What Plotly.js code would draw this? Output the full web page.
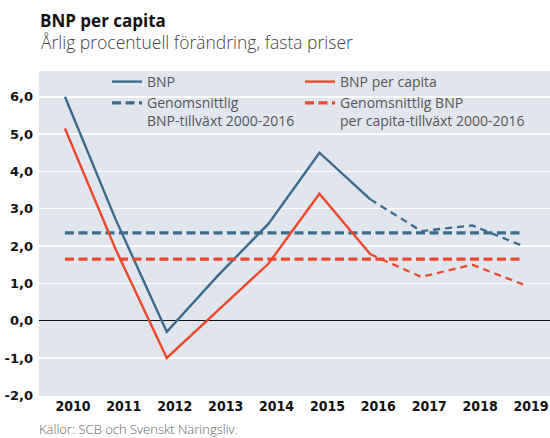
<!DOCTYPE html>
<html><head><meta charset="utf-8">
<script src="https://cdn.plot.ly/plotly-3.0.1.min.js"></script>
<style>html,body{margin:0;padding:0;background:#fff}#chart{width:550px;height:438px}</style>
</head><body><div id="chart"></div>
<script>
// ---- data ----
const years = [2010, 2011, 2012, 2013, 2014, 2015, 2016, 2017, 2018, 2019];
const bnp = [6.0, 2.7, -0.3, 1.2, 2.6, 4.5, 3.25, 2.4, 2.55, 2.0];
const bnpPerCapita = [5.15, 1.9, -1.0, 0.27, 1.53, 3.4, 1.78, 1.17, 1.5, 0.97];
const bnpAverage = 2.35;
const perCapitaAverage = 1.65;
const forecastFrom = 2016;
const yTickVals = [-2, -1, 0, 1, 2, 3, 4, 5, 6];
const yTickText = ['-2,0', '-1,0', '0,0', '1,0', '2,0', '3,0', '4,0', '5,0', '6,0'];
const xTickText = ['2010', '2011', '2012', '2013', '2014', '2015', '2016', '2017', '2018', '2019'];
const seriesNames = ['BNP', 'BNP per capita', 'Genomsnittlig<br>BNP-tillväxt 2000-2016', 'Genomsnittlig BNP<br>per capita-tillväxt 2000-2016'];
const titleText = 'BNP per capita';
const subtitleText = 'Årlig procentuell förändring, fasta priser';
const sourceText = 'Källor: SCB och Svenskt Näringsliv.';

// ---- build ----
const BLUE = '#3b6c8e', RED = '#f0462a';
const PLOT_L = 39, PLOT_W = 511, PLOT_TOP = 71, PLOT_H = 325;
const fi = years.indexOf(forecastFrom);
const histX = years.slice(0, fi + 1), fcX = years.slice(fi);
const avgX = [years[0], years[years.length - 1]];
const paperY = py => (PLOT_TOP + PLOT_H - py) / PLOT_H;
const paperX = px => (px - PLOT_L) / PLOT_W;

const traces = [
  {x: histX, y: bnp.slice(0, fi + 1), name: seriesNames[0], legend: 'legend', mode: 'lines', line: {color: BLUE, width: 2.4}},
  {x: avgX, y: [bnpAverage, bnpAverage], name: seriesNames[2], legend: 'legend', mode: 'lines', line: {color: BLUE, width: 3.3, dash: '9px,4.5px'}},
  {x: histX, y: bnpPerCapita.slice(0, fi + 1), name: seriesNames[1], legend: 'legend2', mode: 'lines', line: {color: RED, width: 2.4}},
  {x: avgX, y: [perCapitaAverage, perCapitaAverage], name: seriesNames[3], legend: 'legend2', mode: 'lines', line: {color: RED, width: 3.3, dash: '9px,4.5px'}},
  {x: fcX, y: bnp.slice(fi), mode: 'lines', showlegend: false, line: {color: BLUE, width: 2.3, dash: '7px,5px'}},
  {x: fcX, y: bnpPerCapita.slice(fi), mode: 'lines', showlegend: false, line: {color: RED, width: 2.3, dash: '7px,5px'}}
];

const legendFont = {family: 'Open Sans, Liberation Sans, sans-serif', size: 14, color: '#555555'};
const legendBase = {orientation: 'v', xanchor: 'left', y: paperY(66), yanchor: 'top', valign: 'top',
  bgcolor: 'rgba(0,0,0,0)', itemwidth: 30, tracegroupgap: 0, font: legendFont};

const layout = {
  width: 550, height: 438,
  margin: {l: PLOT_L, r: 550 - PLOT_L - PLOT_W, t: PLOT_TOP, b: 438 - PLOT_TOP - PLOT_H, pad: 0},
  paper_bgcolor: '#ffffff', plot_bgcolor: '#e1e6ee',
  showlegend: true,
  legend: Object.assign({}, legendBase, {x: paperX(107)}),
  legend2: Object.assign({}, legendBase, {x: paperX(300)}),
  title: {
    text: titleText, xref: 'container', yref: 'container', x: 40 / 550, xanchor: 'left',
    y: 1 - 21.5 / 438, yanchor: 'middle',
    font: {family: 'Open Sans, Liberation Sans, sans-serif', size: 17, weight: 700, color: '#111111'}
  },
  xaxis: {
    range: [2009.49, 2019.53], tickvals: years, ticktext: xTickText,
    showgrid: false, zeroline: false, ticks: '', showline: false,
    ticklabelshift: 8, ticklabelstandoff: 0,
    tickfont: {family: 'DejaVu Sans Condensed, DejaVu Sans, sans-serif', size: 14, weight: 700, color: '#111111'}
  },
  yaxis: {
    range: [-2.02, 6.69], tickvals: yTickVals, ticktext: yTickText,
    showgrid: true, gridcolor: '#ffffff', gridwidth: 1.5,
    zeroline: true, zerolinecolor: '#111111', zerolinewidth: 1.2,
    ticks: '', showline: false, ticklabelstandoff: 5,
    tickfont: {family: 'DejaVu Sans, sans-serif', size: 13, weight: 700, color: '#111111'}
  },
  annotations: [
    {text: subtitleText, xref: 'paper', yref: 'paper', x: 0, xanchor: 'left', y: paperY(42), yanchor: 'middle', showarrow: false,
     font: {family: 'Open Sans, Liberation Sans, sans-serif', size: 17.5, weight: 300, color: '#444444'}},
    {text: sourceText, xref: 'paper', yref: 'paper', x: -2 / PLOT_W, xanchor: 'left', y: paperY(429), yanchor: 'middle', showarrow: false,
     font: {family: 'Open Sans, Liberation Sans, sans-serif', size: 13, weight: 300, color: '#666666'}}
  ]
};

Plotly.newPlot('chart', traces, layout, {displayModeBar: false, staticPlot: true});
</script></body></html>
